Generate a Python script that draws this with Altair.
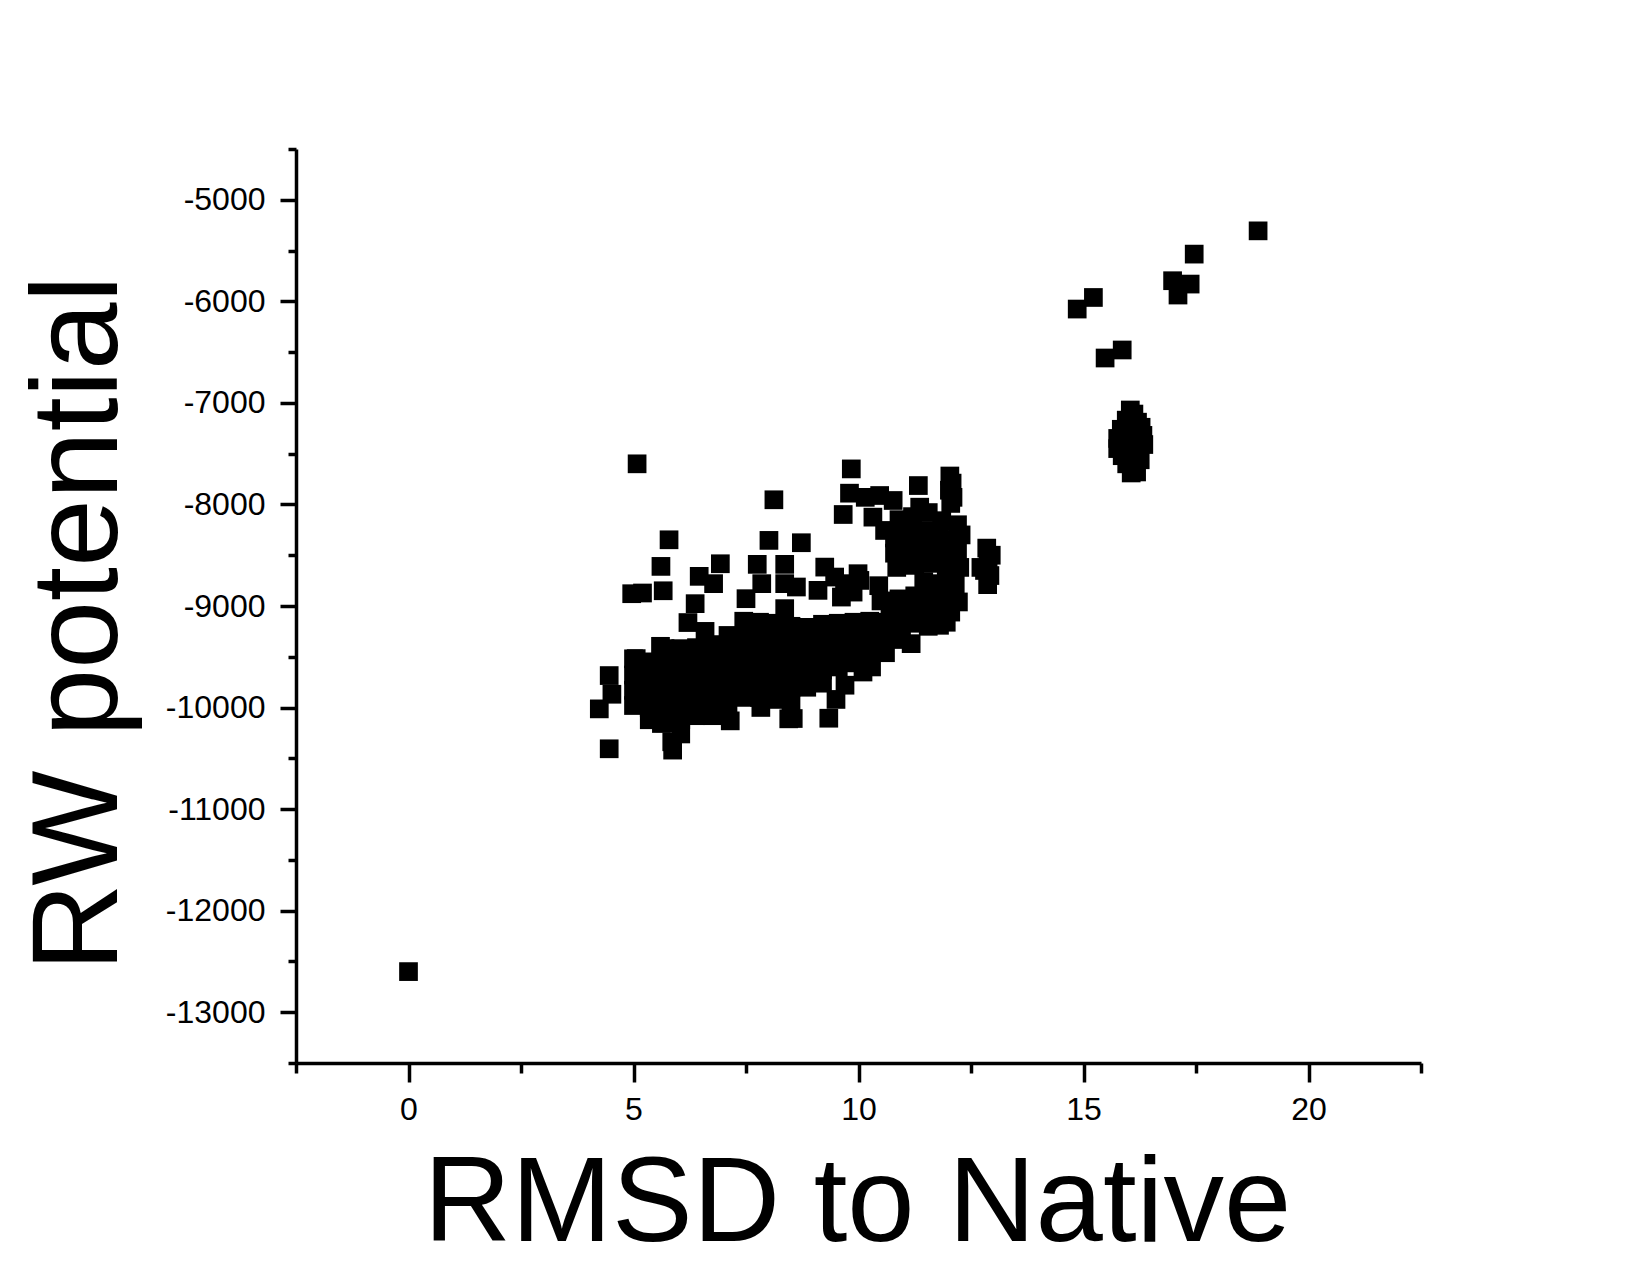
import altair as alt
import pandas as pd

# RMSD to native (x) and RW potential (y)
rmsd = [
    # isolated / far points
    0.0, 18.88, 17.46, 16.98, 17.37, 17.10, 15.22, 14.86, 15.86, 15.48,
    # dense blob near 16
    16.04, 16.12, 15.95, 16.20, 16.28, 15.84, 16.02, 16.32, 15.76, 16.12, 15.92,
    16.34, 15.76, 16.02, 16.22, 15.86, 16.10, 16.26, 15.96, 16.10, 16.06, 16.18,
    # scattered points above the main cloud
    5.08, 9.84, 8.12, 11.33, 12.03, 12.08, 12.02, 12.10, 12.05,
    5.79, 5.61, 5.66, 4.96, 5.20, 6.46, 6.78, 6.93, 6.37, 6.21, 6.59,
    8.01, 8.73, 7.75, 8.36, 7.85, 8.62, 8.36, 7.50, 8.36,
    9.25, 9.47, 9.69, 9.99, 9.62, 9.88, 9.10, 10.03,
    9.80, 9.66, 10.15, 10.47, 10.77, 10.32, 10.58, 11.36,
    # upper right cluster
    10.90, 11.20, 11.55, 11.85, 12.20,
    10.80, 11.10, 11.45, 11.80, 12.15, 12.28,
    10.80, 11.15, 11.50, 11.85, 12.20,
    10.85, 11.25, 11.60, 11.95, 12.25,
    10.45, 11.45, 11.80, 12.15,
    10.50, 10.90, 11.25, 11.60, 11.95,
    11.05, 11.40, 11.75, 12.05,
    11.55, 11.80, 11.30, 11.95, 12.22, 10.70,
    12.85, 12.95, 12.88, 12.80, 12.92, 12.87, 12.72,
    # outer points of the main cloud
    4.46, 4.52, 4.24, 5.06, 5.03, 4.46, 5.87, 5.85, 5.62, 7.15, 7.83, 8.45,
    8.55, 9.34, 5.60, 9.70, 9.50, 10.10, 10.29, 11.17, 10.95, 10.95,
    # main cloud core
    5.00, 5.00, 5.00, 5.00,
    5.35, 5.35, 5.35, 5.35, 5.35,
    5.70, 5.70, 5.70, 5.70, 5.70, 5.70,
    6.05, 6.05, 6.05, 6.05, 6.05, 6.05, 6.05,
    6.40, 6.40, 6.40, 6.40, 6.40, 6.40,
    6.75, 6.75, 6.75, 6.75, 6.75, 6.75,
    7.10, 7.10, 7.10, 7.10, 7.10, 7.10,
    7.45, 7.45, 7.45, 7.45, 7.45, 7.45,
    7.80, 7.80, 7.80, 7.80, 7.80, 7.80,
    8.15, 8.15, 8.15, 8.15, 8.15, 8.15,
    8.50, 8.50, 8.50, 8.50, 8.50, 8.50,
    8.85, 8.85, 8.85, 8.85, 8.85,
    9.20, 9.20, 9.20, 9.20, 9.20,
    9.55, 9.55, 9.55, 9.55,
    9.90, 9.90, 9.90, 9.90,
    10.25, 10.25, 10.25,
    10.60, 10.60, 10.60,
]

rw = [
    -12600, -5306, -5535, -5797, -5830, -5938, -5962, -6076, -6479, -6558,
    -7070, -7110, -7170, -7190, -7240, -7260, -7290, -7320, -7350, -7370, -7410,
    -7410, -7450, -7460, -7490, -7520, -7540, -7560, -7600, -7640, -7690, -7680,
    -7600, -7650, -7954, -7814, -7720, -7790, -7860, -7930, -7990,
    -8348, -8610, -8850, -8879, -8872, -8708, -8780, -8584, -8977, -9163, -9250,
    -8354, -8377, -8590, -8590, -8780, -8813, -8780, -8928, -9026,
    -8617, -8715, -8780, -8682, -8912, -8863, -8846, -8748,
    -7889, -8099, -7930, -7912, -7961, -8125, -8256, -8027,
    -8150, -8120, -8080, -8160, -8200,
    -8330, -8290, -8260, -8320, -8350, -8300,
    -8480, -8450, -8420, -8480, -8460,
    -8620, -8600, -8580, -8640, -8620,
    -8800, -8760, -8780, -8790,
    -8950, -8930, -8900, -8940, -8920,
    -9060, -9080, -9100, -9060,
    -9200, -9190, -9170, -9160, -8960, -9060,
    -8430, -8500, -8580, -8650, -8700, -8790, -8620,
    -9685, -9869, -10013, -9518, -9829, -10406, -10419, -10337, -10157, -10131, -9999, -10111,
    -10108, -10105, -9397, -9780, -9920, -9650, -9600, -9371, -9200, -9330,
    -9520, -9680, -9830, -9980,
    -9550, -9700, -9850, -10000, -10120,
    -9420, -9570, -9720, -9870, -10020, -10150,
    -9420, -9560, -9700, -9850, -10000, -10120, -10260,
    -9410, -9550, -9700, -9850, -9990, -10080,
    -9380, -9520, -9670, -9820, -9970, -10080,
    -9290, -9440, -9590, -9740, -9890, -10020,
    -9150, -9300, -9450, -9600, -9750, -9900,
    -9160, -9310, -9460, -9610, -9760, -9900,
    -9170, -9320, -9470, -9620, -9770, -9920,
    -9200, -9350, -9500, -9650, -9800, -9950,
    -9210, -9360, -9510, -9660, -9800,
    -9180, -9330, -9480, -9630, -9760,
    -9170, -9320, -9470, -9600,
    -9160, -9310, -9460, -9560,
    -9150, -9300, -9430,
    -9160, -9300, -9460,
]

x_ticks = [-2.5, 0, 2.5, 5, 7.5, 10, 12.5, 15, 17.5, 20, 22.5]
y_ticks = [-13500, -13000, -12500, -12000, -11500, -11000, -10500, -10000, -9500,
           -9000, -8500, -8000, -7500, -7000, -6500, -6000, -5500, -5000, -4500]

df = pd.DataFrame({"rmsd": rmsd[:len(rw)], "rw": rw[:len(rmsd)]})

FONT = "Liberation Sans"

x_axis = alt.Axis(
    values=x_ticks,
    labelExpr="datum.value % 5 === 0 ? '' + datum.value : ''",
    tickSize={"condition": {"test": "datum.value % 5 === 0", "value": 19}, "value": 10},
    tickWidth=3.5, tickColor="black",
    domainWidth=3.5, domainColor="black",
    labelFont=FONT, labelFontSize=32, labelColor="black", labelPadding=12,
    labelOverlap=False, labelFlush=False, labelBound=False,
    grid=False,
    title="RMSD to Native", titleFont=FONT, titleFontSize=121, titleFontWeight="normal",
    titleColor="black", titleAlign="center", titleBaseline="alphabetic",
    titleX=561, titleY=177, titleAngle=0,
)

y_axis = alt.Axis(
    values=y_ticks,
    labelExpr="datum.value % 1000 === 0 ? '' + datum.value : ''",
    tickSize={"condition": {"test": "datum.value % 1000 === 0", "value": 16}, "value": 8},
    tickWidth=3.5, tickColor="black",
    domainWidth=3.5, domainColor="black",
    labelFont=FONT, labelFontSize=32, labelColor="black", labelPadding=15,
    labelOverlap=False, labelFlush=False, labelBound=False,
    grid=False,
    title="RW potential", titleFont=FONT, titleFontSize=122, titleFontWeight="normal",
    titleColor="black", titleAlign="center", titleBaseline="alphabetic",
    titleAngle=270, titleX=-180, titleY=474,
)

chart = alt.Chart(df).mark_square(size=350, color="black", opacity=1, filled=True).encode(
    x=alt.X("rmsd:Q", scale=alt.Scale(domain=[-2.5, 22.5], nice=False, zero=False), axis=x_axis),
    y=alt.Y("rw:Q", scale=alt.Scale(domain=[-13500, -4500], nice=False, zero=False), axis=y_axis),
).properties(
    width=1125, height=914,
    padding={"left": 288, "top": 141, "right": 200, "bottom": 204},
    autosize=alt.AutoSizeParams(type="none"),
    background="white",
).configure_view(stroke=None)

chart.save("out.html", embed_options={"renderer": "svg", "actions": False})
